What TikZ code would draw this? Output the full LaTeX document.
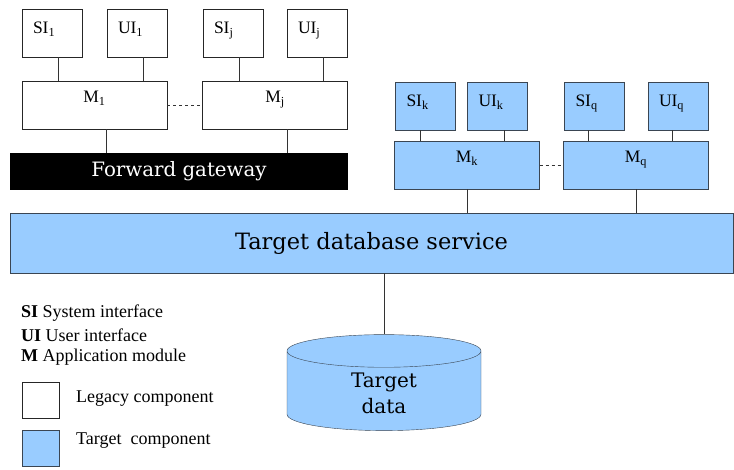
\documentclass[tikz,border=0pt]{standalone}
\usepackage{fontspec}
\setmainfont{Liberation Serif}
\newfontfamily\widefont{DejaVu Serif}
\usetikzlibrary{shapes.geometric, positioning}
\definecolor{tblue}{HTML}{99CCFF}
\definecolor{tline}{HTML}{3A4552}
\tikzset{legacy/.style={draw=black!85, fill=white, font=\fontsize{17.5}{19}\selectfont,
                        minimum width=60, minimum height=48, inner sep=0pt,
                        text width=38, align=left, text height=12, text depth=11},
         target/.style={legacy, draw=tline, fill=tblue},
         module/.style={minimum width=145, text width=, align=center, text depth=17},
         link/.style={draw=black!80, line width=0.8pt},
         gap/.style={link, dashed},
         legend/.style={anchor=west, inner sep=0pt, font=\fontsize{18}{20}\selectfont},
         }
\begin{document}
\begin{tikzpicture}[x=1pt, y=-1pt]
    \useasboundingbox (0,0) rectangle (734,469);
    % legacy side
    \node[legacy] (SI1) at (52,33) {SI\textsubscript{1}};
    \node[legacy] (UI1) at (137,33) {UI\textsubscript{1}};
    \node[legacy] (SIj) at (233,33) {SI\textsubscript{j}};
    \node[legacy] (UIj) at (317,33) {UI\textsubscript{j}};
    \node[legacy, module] (M1) at (94.5,105) {M\textsubscript{1}};
    \node[legacy, module] (Mj) at (275,105) {M\textsubscript{j}};
    \node[fill=black, minimum width=338, minimum height=37, text=white,
          font=\widefont\fontsize{19.8}{21}\selectfont] (gw) at (179,171.5) {Forward gateway};
    % target side
    \node[target] (SIk) at (425.5,106) {SI\textsubscript{k}};
    \node[target] (UIk) at (497.5,106) {UI\textsubscript{k}};
    \node[target] (SIq) at (594.5,106) {SI\textsubscript{q}};
    \node[target] (UIq) at (678,106) {UI\textsubscript{q}};
    \node[target, module] (Mk) at (467,165) {M\textsubscript{k}};
    \node[target, module] (Mq) at (636,165) {M\textsubscript{q}};
    \node[draw=tline, fill=tblue, line width=0.8pt, minimum width=723, minimum height=60,
          font=\widefont\fontsize{22.5}{24}\selectfont] (db) at (371.5,243) {Target database service};
    \node[cylinder, shape border rotate=90, aspect=0.45, draw=tline, fill=tblue,
          minimum width=194, minimum height=96, align=center,
          font=\widefont\fontsize{20}{26}\selectfont] (data) at (384,393) {Target\\data};

    \foreach \a/\b/\s in {SI1/M1/6, UI1/M1/6, SIj/Mj/6, UIj/Mj/6,
                          SIk/Mk/-5, UIk/Mk/7, SIq/Mq/-6, UIq/Mq/-6}
        \draw[link] ([xshift=\s]\a.south) -- ([xshift=\s]\a.south |- \b.north);
    \draw[link] ([xshift=12]M1.south) -- ([xshift=12]M1.south |- gw.north);
    \draw[link] ([xshift=12]Mj.south) -- ([xshift=12]Mj.south |- gw.north);
    \draw[link] (Mk.south) -- (Mk.south |- db.north);
    \draw[link] (Mq.south) -- (Mq.south |- db.north);
    \draw[link] (db.south -| data.north) -- (data.north);
    \draw[gap] (M1.east) -- (Mj.west);
    \draw[gap] (Mk.east) -- (Mq.west);

    % legend
    \node[legend] (legSI) at (21,313) {\textbf{SI} System interface};
    \node[legend] (legUI) at (21,335) {\textbf{UI} User interface};
    \node[legend] (legM) at (21,357) {\textbf{M} Application module};
    \node[legacy, minimum width=37, minimum height=36, text width=] (legOld) at (40.5,400) {};
    \node[target, minimum width=37, minimum height=36, text width=] (legNew) at (40.5,448) {};
    \node[legend] (txtOld) at (76,399) {Legacy component};
    \node[legend] (txtNew) at (76,441) {Target\ \ component};
\end{tikzpicture}
\end{document}
